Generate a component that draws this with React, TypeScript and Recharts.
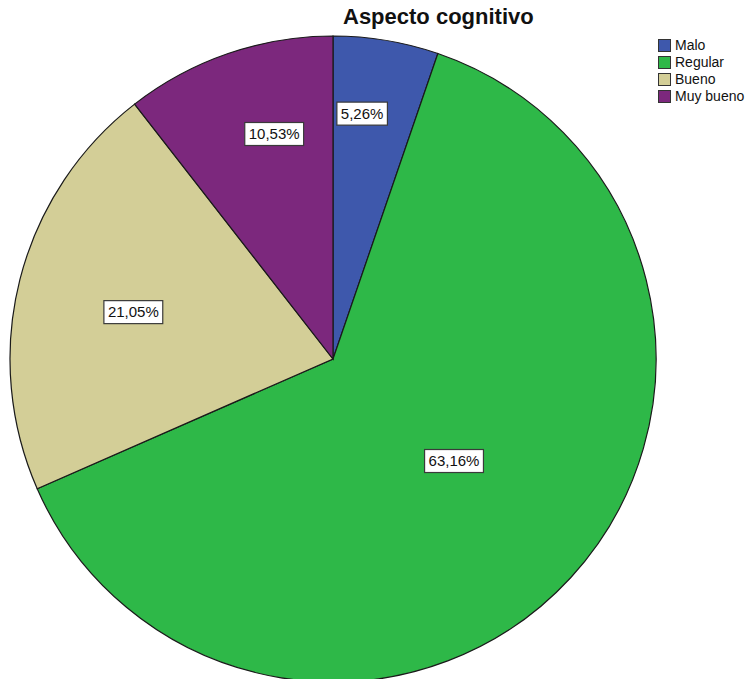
import { Legend, Pie, PieChart } from "recharts";

// counts per category (n = 19)
const categories = ["Malo", "Regular", "Bueno", "Muy bueno"];
const counts = [1, 12, 4, 2];
const colors = ["#3E58AC", "#2EB848", "#D3CE97", "#7C287D"];

// where each percentage box sits: fraction of radius, and a small turn off the slice middle (deg)
const labelRadius = [0.765, 0.49, 0.635, 0.72];
const labelTurn = [2.7, 2.5, 1.0, -4.3];

const data = categories.map((name, i) => ({
  name,
  value: counts[i],
  fill: colors[i],
}));

const FONT = "'Liberation Sans', Arial, sans-serif";
const RAD = Math.PI / 180;

function textWidth(s: string, size: number) {
  let w = 0;
  for (const ch of s) {
    if (ch === ",") w += 0.278;
    else if (ch === "%") w += 0.889;
    else w += 0.556;
  }
  return w * size;
}

function renderLabel(props: any) {
  const { cx, cy, midAngle, outerRadius, percent, index } = props;
  const r = outerRadius * labelRadius[index];
  const a = (midAngle + labelTurn[index]) * RAD;
  const x = cx + r * Math.cos(-a);
  const y = cy + r * Math.sin(-a);
  const text = (percent * 100).toFixed(2).replace(".", ",") + "%";
  const w = textWidth(text, 15) + 8;
  const h = 23;
  return (
    <g>
      <rect
        x={x - w / 2}
        y={y - h / 2}
        width={w}
        height={h}
        fill="#ffffff"
        stroke="#3a3a3a"
        strokeWidth={1.2}
      />
      <text
        x={x}
        y={y + 1}
        textAnchor="middle"
        dominantBaseline="middle"
        fontFamily={FONT}
        fontSize={15}
        fill="#111"
      >
        {text}
      </text>
    </g>
  );
}

function LegendBox() {
  return (
    <div style={{ fontFamily: FONT, fontSize: 14, lineHeight: "17px", color: "#111" }}>
      {data.map((d) => (
        <div key={d.name} style={{ display: "flex", alignItems: "center", whiteSpace: "nowrap" }}>
          <span
            style={{
              display: "inline-block",
              width: 11,
              height: 11,
              background: d.fill,
              border: "1px solid #333",
              marginRight: 4,
            }}
          />
          {d.name}
        </div>
      ))}
    </div>
  );
}

export default function App() {
  return (
    <div style={{ position: "absolute", left: 0, top: 0, width: 751, height: 679, background: "#fff", overflow: "hidden" }}>
      <div
        style={{
          position: "absolute",
          left: 343,
          top: 4,
          fontFamily: FONT,
          fontWeight: "bold",
          fontSize: 22,
          color: "#111",
          whiteSpace: "nowrap",
        }}
      >
        Aspecto cognitivo
      </div>
      <PieChart width={751} height={679} margin={{ top: 0, right: 0, bottom: 0, left: 0 }}>
        <Pie
          data={data}
          dataKey="value"
          nameKey="name"
          cx={333}
          cy={359}
          outerRadius={323}
          startAngle={90}
          endAngle={-270}
          stroke="#1a1a1a"
          strokeWidth={1.2}
          label={renderLabel}
          labelLine={false}
          isAnimationActive={false}
        />
        <Legend
          content={() => <LegendBox />}
          wrapperStyle={{ position: "absolute", left: 658, top: 37, width: 93 }}
        />
      </PieChart>
    </div>
  );
}
